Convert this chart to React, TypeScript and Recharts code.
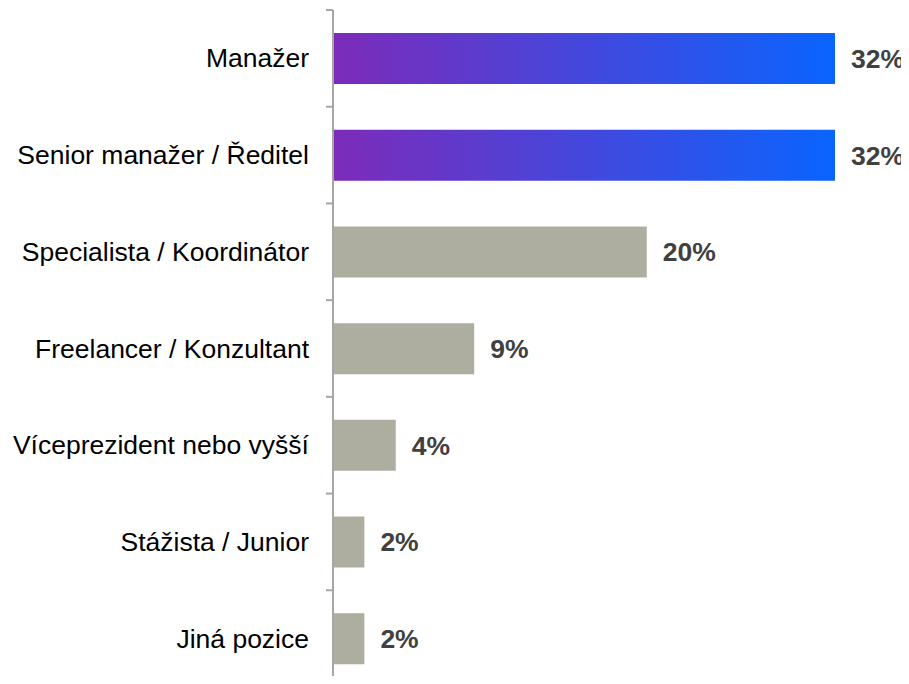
import React from "react";
import { BarChart, Bar, XAxis, YAxis, Cell, LabelList } from "recharts";

const categories = [
  "Manažer",
  "Senior manažer / Ředitel",
  "Specialista / Koordinátor",
  "Freelancer / Konzultant",
  "Víceprezident nebo vyšší",
  "Stážista / Junior",
  "Jiná pozice",
];
const values = [32, 32, 20, 9, 4, 2, 2];
const highlighted = [true, true, false, false, false, false, false];

const data = categories.map((name, i) => ({ name, value: values[i], hi: highlighted[i] }));

const W = 909;
const H = 687;
const TOP = 10;
const BAND = (H - TOP) / categories.length;
const GAP = 24;
const FONT = "Arial, 'Liberation Sans', sans-serif";

const Tick = (props: any) => {
  const { x, y, payload } = props;
  const ax = x + GAP;
  return (
    <g>
      <line x1={ax - 7} x2={ax} y1={y - BAND / 2} y2={y - BAND / 2} stroke="#A6A6A6" strokeWidth={2} />
      <text
        x={x}
        y={y}
        textAnchor="end"
        dominantBaseline="central"
        fontFamily={FONT}
        fontSize={26.5}
        fill="#000"
      >
        {payload.value}
      </text>
    </g>
  );
};

export default function App() {
  return (
    <div style={{ margin: -8, width: W, height: 684, overflow: "hidden" }}>
      <BarChart
        width={W}
        height={H}
        data={data}
        layout="vertical"
        margin={{ top: TOP, right: 74, left: 0, bottom: 0 }}
        barCategoryGap={0}
      >
        <defs>
          <linearGradient id="hiGrad" x1="0" y1="0" x2="1" y2="0">
            <stop offset="0%" stopColor="#7D2BB9" />
            <stop offset="100%" stopColor="#0A64FF" />
          </linearGradient>
        </defs>
        <XAxis type="number" domain={[0, 32]} hide />
        <YAxis
          type="category"
          dataKey="name"
          width={333}
          tickSize={0}
          tickMargin={GAP}
          tickLine={false}
          axisLine={{ stroke: "#A6A6A6", strokeWidth: 2 }}
          tick={<Tick />}
          interval={0}
        />
        <Bar dataKey="value" barSize={51} isAnimationActive={false}>
          {data.map((d, i) => (
            <Cell key={i} fill={d.hi ? "url(#hiGrad)" : "#ADADA0"} />
          ))}
          <LabelList
            dataKey="value"
            position="right"
            offset={16}
            formatter={(v: any) => `${v}%`}
            style={{
              fontFamily: FONT,
              fontSize: 26.5,
              fontWeight: "bold",
              fill: "#404040",
            }}
          />
        </Bar>
      </BarChart>
    </div>
  );
}
